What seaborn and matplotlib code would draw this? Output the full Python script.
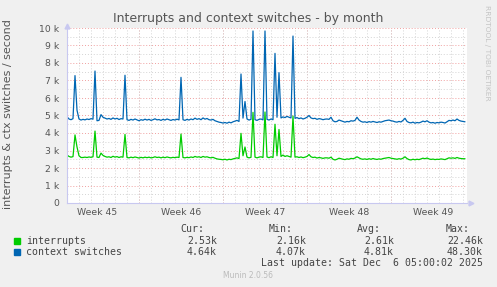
import numpy as np
import pandas as pd
import seaborn as sns
import matplotlib.pyplot as plt
import matplotlib.dates as mdates
from matplotlib.patches import Rectangle
from matplotlib.ticker import MultipleLocator, FixedLocator, FuncFormatter

sns.set_style('white')
plt.rcParams['font.family'] = ['DejaVu Sans']

# 4-hourly averages, in thousands per second
interrupts_k = [
    2.74, 2.66, 2.62, 2.65, 3.89, 3.20, 2.70, 2.60, 2.60, 2.62,
    2.60, 2.63, 2.61, 2.64, 4.11, 2.62, 2.60, 2.85, 2.72, 2.66,
    2.62, 2.64, 2.60, 2.67, 2.62, 2.65, 2.60, 2.64, 2.62, 3.92,
    2.60, 2.58, 2.62, 2.59, 2.63, 2.60, 2.57, 2.61, 2.58, 2.62,
    2.59, 2.62, 2.58, 2.60, 2.64, 2.60, 2.62, 2.58, 2.62, 2.59,
    2.63, 2.60, 2.58, 2.61, 2.59, 2.62, 2.60, 3.94, 2.60, 2.58,
    2.61, 2.59, 2.63, 2.60, 2.66, 2.62, 2.64, 2.60, 2.66, 2.62,
    2.64, 2.60, 2.58, 2.61, 2.56, 2.52, 2.50, 2.49, 2.47, 2.50,
    2.46, 2.50, 2.48, 2.52, 2.55, 2.58, 2.54, 3.98, 2.70, 3.20,
    2.62, 2.58, 2.61, 5.18, 2.62, 2.58, 2.62, 2.64, 2.60, 5.20,
    2.63, 2.59, 2.64, 2.60, 4.50, 2.70, 4.20, 2.66, 2.74, 2.66,
    2.70, 2.66, 2.62, 4.97, 2.62, 2.64, 2.60, 2.63, 2.59, 2.62,
    2.66, 2.77, 2.64, 2.60, 2.62, 2.57, 2.60, 2.58, 2.55, 2.58,
    2.58, 2.56, 2.62, 2.50, 2.46, 2.50, 2.56, 2.53, 2.50, 2.48,
    2.52, 2.50, 2.55, 2.53, 2.57, 2.64, 2.58, 2.52, 2.50, 2.52,
    2.49, 2.53, 2.50, 2.54, 2.51, 2.49, 2.52, 2.50, 2.54, 2.56,
    2.58, 2.60, 2.56, 2.54, 2.52, 2.50, 2.53, 2.51, 2.56, 2.64,
    2.54, 2.48, 2.46, 2.50, 2.47, 2.50, 2.48, 2.52, 2.56, 2.53,
    2.57, 2.52, 2.49, 2.51, 2.48, 2.50, 2.49, 2.52, 2.50, 2.48,
    2.53, 2.58, 2.56, 2.58, 2.55, 2.60, 2.56, 2.54, 2.53, 2.53,
]
ctx_k = [
    4.93, 4.80, 4.76, 4.82, 7.28, 5.30, 4.80, 4.74, 4.78, 4.75,
    4.80, 4.77, 4.82, 4.79, 7.54, 4.70, 4.72, 5.05, 4.90, 4.85,
    4.80, 4.83, 4.78, 4.86, 4.80, 4.84, 4.77, 4.82, 4.80, 7.30,
    4.76, 4.72, 4.78, 4.74, 4.80, 4.75, 4.70, 4.76, 4.73, 4.79,
    4.74, 4.78, 4.72, 4.76, 4.81, 4.75, 4.77, 4.72, 4.78, 4.74,
    4.80, 4.76, 4.72, 4.77, 4.74, 4.79, 4.75, 7.18, 4.76, 4.72,
    4.78, 4.74, 4.80, 4.76, 4.85, 4.78, 4.82, 4.76, 4.86, 4.79,
    4.83, 4.76, 4.74, 4.78, 4.70, 4.66, 4.62, 4.60, 4.57, 4.60,
    4.56, 4.62, 4.58, 4.64, 4.68, 4.72, 4.66, 7.37, 4.85, 5.80,
    4.80, 4.74, 4.78, 9.83, 4.76, 4.72, 4.78, 4.80, 4.75, 9.83,
    4.78, 4.74, 4.80, 4.76, 8.55, 4.90, 7.45, 4.86, 4.92, 4.88,
    4.95, 4.90, 4.86, 9.54, 4.84, 4.88, 4.82, 4.86, 4.80, 4.84,
    4.90, 5.00, 4.86, 4.82, 4.84, 4.78, 4.82, 4.80, 4.76, 4.79,
    4.80, 4.78, 4.90, 4.70, 4.64, 4.66, 4.74, 4.70, 4.66, 4.62,
    4.66, 4.64, 4.70, 4.68, 4.72, 4.90, 4.74, 4.66, 4.62, 4.64,
    4.60, 4.65, 4.62, 4.66, 4.63, 4.60, 4.64, 4.62, 4.66, 4.70,
    4.72, 4.74, 4.70, 4.68, 4.64, 4.62, 4.66, 4.63, 4.72, 4.84,
    4.66, 4.60, 4.58, 4.62, 4.56, 4.60, 4.58, 4.62, 4.68, 4.64,
    4.70, 4.62, 4.58, 4.60, 4.56, 4.60, 4.58, 4.62, 4.60, 4.57,
    4.64, 4.72, 4.70, 4.74, 4.70, 4.80, 4.72, 4.68, 4.66, 4.64,
]
series_names = ['interrupts', 'context switches']
series_colors = ['#00CC00', '#0066B3']
cur_vals = ['2.53k', '4.64k']
min_vals = ['2.16k', '4.07k']
avg_vals = ['2.61k', '4.81k']
max_vals = ['22.46k', '48.30k']
week_mondays = ['2025-11-03', '2025-11-10', '2025-11-17', '2025-11-24', '2025-12-01']

times = pd.date_range('2025-11-04 00:00', periods=len(ctx_k), freq='4h')
df = pd.DataFrame({'time': times,
                   'interrupts': np.array(interrupts_k) * 1000,
                   'context switches': np.array(ctx_k) * 1000})
long = df.melt(id_vars='time', var_name='series', value_name='value')

W, H = 497, 287
fig = plt.figure(figsize=(W / 100, H / 100), dpi=100, facecolor='#F0F0F0')
ax = fig.add_axes([67 / W, 84 / H, 400 / W, 175 / H])
ax.set_facecolor('white')

sns.lineplot(data=long, x='time', y='value', hue='series', hue_order=series_names,
             palette=dict(zip(series_names, series_colors)), linewidth=0.9,
             legend=False, ax=ax)

ax.set_xlim(times[0], times[-1] + pd.Timedelta(hours=4))
ax.set_ylim(0, 10000)
ax.set_xlabel('')
ax.set_ylabel('')
ax.set_axisbelow(True)

grid_gray = '#D4D4D4'
grid_red = '#F0A0A0'
dots = (0, (1, 2))

# y: red every 1k, gray every 500
ax.yaxis.set_major_locator(MultipleLocator(1000))
ax.yaxis.set_minor_locator(MultipleLocator(500))
ax.yaxis.set_major_formatter(FuncFormatter(lambda v, p: '0' if v == 0 else f'{v / 1000:g} k'))

# x: gray every day, red on mondays, labels centred in each week
mondays = pd.to_datetime(week_mondays)
ax.xaxis.set_minor_locator(mdates.DayLocator())
mids = mondays + pd.Timedelta(hours=84)
ax.xaxis.set_major_locator(FixedLocator(mdates.date2num(mids)))
ax.set_xticklabels([f'Week {m.isocalendar().week}' for m in mondays])

ax.grid(which='minor', color=grid_gray, ls=dots, lw=0.7)
ax.grid(which='major', axis='y', color=grid_red, ls=dots, lw=0.7)
for m in mondays:
    if times[0] < m:
        ax.axvline(m, color=grid_red, ls=dots, lw=0.7, zorder=0.5)

ax.tick_params(which='both', length=0, labelsize=6.7, labelcolor='#555555')
ax.tick_params(axis='y', pad=5.5)
ax.tick_params(axis='x', pad=3.5)

for s in ['top', 'right']:
    ax.spines[s].set_visible(False)
for s in ['left', 'bottom']:
    ax.spines[s].set_color('#C8C8F0')
    ax.spines[s].set_linewidth(0.8)
ax.plot(0, 1.01, marker='^', color='#C8C8F0', ms=3.5, transform=ax.transAxes, clip_on=False)
ax.plot(1.01, 0, marker='>', color='#C8C8F0', ms=3.5, transform=ax.transAxes, clip_on=False)

def fx(px):
    return px / W

def fy(py):
    return 1 - py / H

fig.text(fx(248), fy(22), 'Interrupts and context switches - by month',
         ha='center', va='baseline', fontsize=9, color='#555555')
fig.text(fx(8), fy(114), 'interrupts & ctx switches / second', rotation=90,
         ha='center', va='center', fontsize=8, color='#555555')
fig.text(fx(487), fy(53), 'RRDTOOL / TOBI OETIKER', rotation=270,
         ha='center', va='center', fontsize=5.4, color='#C4C4C4')

mono = dict(family='DejaVu Sans Mono', fontsize=7.1, color='#444444', va='center')
col_right = [217, 306, 394, 483]
for x, h in zip(col_right, ['Cur:', 'Min:', 'Avg:', 'Max:']):
    fig.text(fx(x - 13), fy(228.5), h, ha='right', **mono)
for i, name in enumerate(series_names):
    yy = 240.8 + i * 11.3
    fig.patches.append(Rectangle((fx(14), fy(yy + 3)), 6 / W, 6 / H,
                                 transform=fig.transFigure, color=series_colors[i]))
    fig.text(fx(26.5), fy(yy), name, ha='left', **mono)
    for x, vals in zip(col_right, [cur_vals, min_vals, avg_vals, max_vals]):
        fig.text(fx(x), fy(yy), vals[i], ha='right', **mono)
fig.text(fx(483), fy(263.5), 'Last update: Sat Dec  6 05:00:02 2025', ha='right', **mono)
fig.text(fx(248), fy(276), 'Munin 2.0.56', ha='center', va='center', fontsize=5.5, color='#BBBBBB')

fig.savefig('out.png', dpi=100, facecolor=fig.get_facecolor())
